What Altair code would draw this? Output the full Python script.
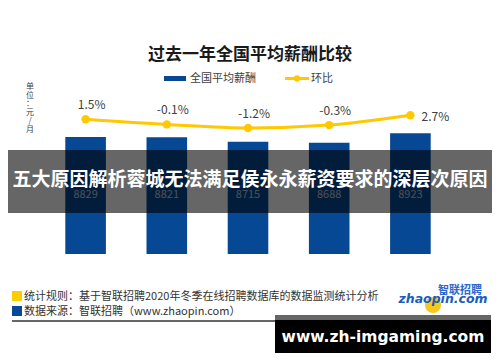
import altair as alt
import pandas as pd

quarters = ["2019年Q4", "2020年Q1", "2020年Q2", "2020年Q3", "2020年Q4"]
salary = [8829, 8821, 8715, 8688, 8923]
mom = [1.5, -0.1, -1.2, -0.3, 2.7]

title_text = "过去一年全国平均薪酬比较"
legend_bar = "全国平均薪酬"
legend_line = "环比"
unit_text = "单\n位\n：\n元\n/\n月"
banner_text = "五大原因解析蓉城无法满足侯永永薪资要求的深层次原因"
note1 = "统计规则：基于智联招聘2020年冬季在线招聘数据库的数据监测统计分析"
note2 = "数据来源：智联招聘（www.zhaopin.com）"
watermark = "www.zh-imgaming.com"

FONT = "Noto Sans CJK SC"
BLUE = "#074894"
YELLOW = "#FFC800"
GRAY = "#404040"

df = pd.DataFrame({
    "q": quarters,
    "salary": salary,
    "mom": mom,
    "idx": list(range(len(quarters))),
})
df["mom_label"] = [f"{v:.1f}%" for v in mom]
df["sal_label"] = [str(v) for v in salary]

one = pd.DataFrame({"a": [0]})

xscale = alt.Scale(domain=quarters, range=[37, 443], paddingInner=0.5, paddingOuter=0.25)
xenc = alt.X("q:N", scale=xscale, sort=quarters,
             axis=alt.Axis(title=None, labelAngle=0, tickBand="extent", tickSize=5,
                           domainColor="#aaaaaa", tickColor="#aaaaaa", labelColor=GRAY,
                           labelFont=FONT, labelFontSize=12, labelPadding=4, grid=False))
xenc_noaxis = alt.X("q:N", scale=xscale, sort=quarters, axis=None)

yscale_bar = alt.Scale(domain=[6000, 10000], range=[246, 80.6], zero=False, nice=False)
yscale_line = alt.Scale(domain=[-5, 5], range=[132.4, 99.8], zero=False, nice=False)

base = alt.Chart(df)

bars = base.mark_bar(color=BLUE).encode(
    x=xenc,
    y=alt.Y("salary:Q", scale=yscale_bar, axis=None),
    y2=alt.datum(6000),
)

bar_labels = base.mark_text(font=FONT, fontSize=11, color="#c0c8d8").encode(
    x=xenc_noaxis,
    y=alt.value(187),
    text="sal_label:N",
)

line = base.mark_line(color=YELLOW, strokeWidth=3, interpolate="monotone").encode(
    x=xenc_noaxis,
    y=alt.Y("mom:Q", scale=yscale_line, axis=None),
)
pts = base.mark_circle(color=YELLOW, size=70, opacity=1).encode(
    x=xenc_noaxis,
    y=alt.Y("mom:Q", scale=yscale_line, axis=None),
)
lab1 = base.transform_filter("datum.idx < 4").mark_text(
    font=FONT, fontSize=12, color=GRAY, dx=6, dy=-14).encode(
    x=xenc_noaxis,
    y=alt.Y("mom:Q", scale=yscale_line, axis=None),
    text="mom_label:N",
)
lab2 = base.transform_filter("datum.idx == 4").mark_text(
    font=FONT, fontSize=12, color=GRAY, dx=25, dy=2).encode(
    x=xenc_noaxis,
    y=alt.Y("mom:Q", scale=yscale_line, axis=None),
    text="mom_label:N",
)

o = alt.Chart(one)

title = o.mark_text(font=FONT, fontSize=17, fontWeight="bold", color="#1a1a1a").encode(
    x=alt.value(242), y=alt.value(47), text=alt.value(title_text))

leg_rect = o.mark_rect(color=BLUE).encode(
    x=alt.value(156), x2=alt.value(178), y=alt.value(68), y2=alt.value(73))
leg_t1 = o.mark_text(font=FONT, fontSize=11, color=GRAY, align="left").encode(
    x=alt.value(182), y=alt.value(70.5), text=alt.value(legend_bar))
leg_rule = o.mark_rule(color=YELLOW, strokeWidth=3).encode(
    x=alt.value(277), x2=alt.value(301), y=alt.value(70.5))
leg_pt = o.mark_circle(color=YELLOW, size=40, opacity=1).encode(
    x=alt.value(289), y=alt.value(70.5))
leg_t2 = o.mark_text(font=FONT, fontSize=11, color=GRAY, align="left").encode(
    x=alt.value(303), y=alt.value(70.5), text=alt.value(legend_line))

unit = o.mark_text(font=FONT, fontSize=8, color=GRAY, lineBreak="\n", lineHeight=8.6,
                   baseline="top").encode(
    x=alt.value(22), y=alt.value(75), text=alt.value(unit_text))

overlay = o.mark_rect(color="black", opacity=0.6).encode(
    x=alt.value(0), x2=alt.value(484), y=alt.value(142), y2=alt.value(205))
banner = o.mark_text(font=FONT, fontSize=19, fontWeight="bold", color="white").encode(
    x=alt.value(242), y=alt.value(172), text=alt.value(banner_text))

sq1 = o.mark_rect(color="#FFCC00").encode(
    x=alt.value(4), x2=alt.value(14), y=alt.value(283), y2=alt.value(293))
sq2 = o.mark_rect(color=BLUE).encode(
    x=alt.value(4), x2=alt.value(14), y=alt.value(298), y2=alt.value(308))
n1 = o.mark_text(font=FONT, fontSize=11, color="#333333", align="left").encode(
    x=alt.value(16), y=alt.value(288.5), text=alt.value(note1))
n2 = o.mark_text(font=FONT, fontSize=11, color="#333333", align="left").encode(
    x=alt.value(16), y=alt.value(304), text=alt.value(note2))
foot_rule = o.mark_rule(color="#333333", strokeWidth=1.3).encode(
    x=alt.value(4), x2=alt.value(267), y=alt.value(313))

logo_c = o.mark_circle(color="#F8C81E", size=260, opacity=1).encode(
    x=alt.value(425), y=alt.value(297))
logo_t = o.mark_text(font="DejaVu Sans", fontSize=12.5, fontWeight="bold", fontStyle="italic",
                     color="#1b5cbf").encode(
    x=alt.value(435), y=alt.value(291), text=alt.value("zhaopin.com"))
logo_cn = o.mark_text(font=FONT, fontSize=11, fontWeight="bold", color="#2a6ad0").encode(
    x=alt.value(452), y=alt.value(283), text=alt.value("智联招聘"))

wm_box = o.mark_rect(color="black").encode(
    x=alt.value(267), x2=alt.value(483), y=alt.value(307), y2=alt.value(345))
wm_strip = o.mark_rect(color="#666666").encode(
    x=alt.value(267), x2=alt.value(483), y=alt.value(307), y2=alt.value(312))
wm_text = o.mark_text(font="DejaVu Sans", fontSize=15.5, fontWeight="bold", color="white").encode(
    x=alt.value(375), y=alt.value(329), text=alt.value(watermark))

chart = alt.layer(
    bars, bar_labels, line, pts, lab1, lab2,
    title, leg_rect, leg_t1, leg_rule, leg_pt, leg_t2, unit,
    overlay, banner,
    sq1, sq2, n1, n2, foot_rule,
    logo_c, logo_t, logo_cn,
    wm_box, wm_strip, wm_text,
).resolve_scale(y="independent").properties(
    width=484, height=346, autosize=alt.AutoSizeParams(type="none"), padding=0,
    background="white",
).configure_view(stroke=None)

chart.save("out.html", embed_options={"renderer": "svg", "actions": False})
